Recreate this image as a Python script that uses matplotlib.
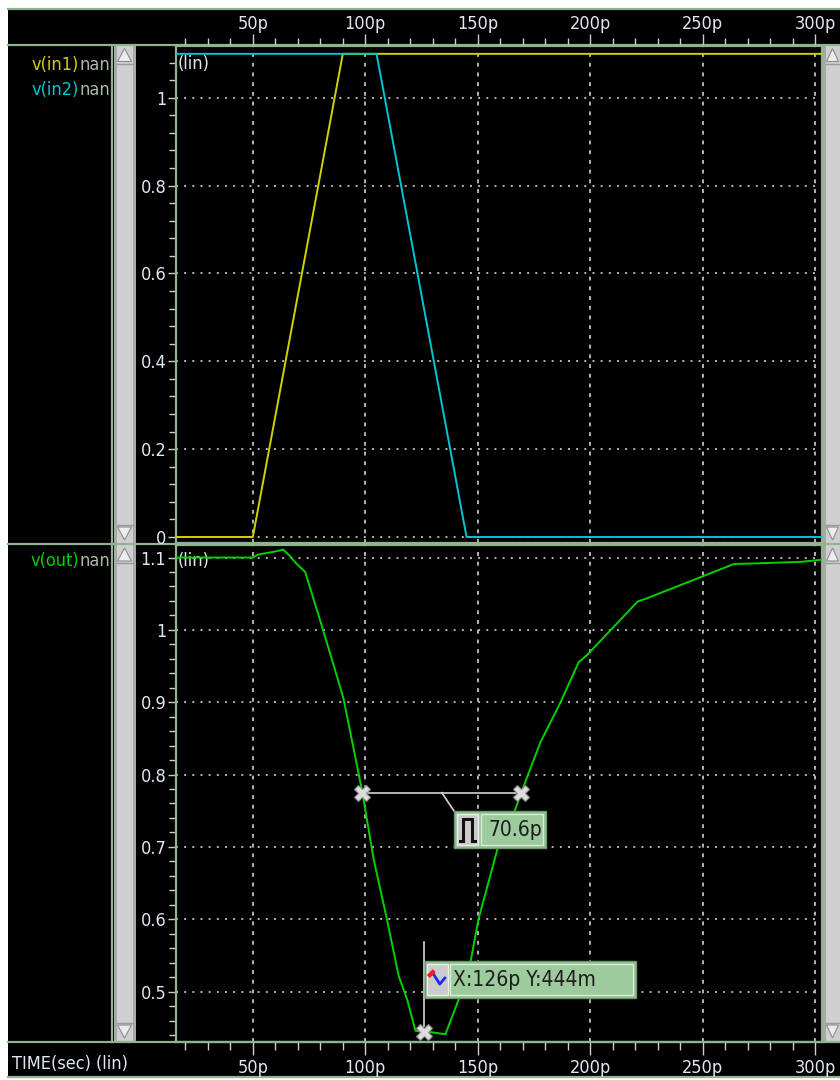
import matplotlib
matplotlib.use('Agg')
import matplotlib.pyplot as plt
from matplotlib.patches import Rectangle, Polygon
from matplotlib.ticker import MultipleLocator, FuncFormatter

# ---------------- data ----------------
t_in1 = [0, 50, 90, 310]
v_in1 = [0.0, 0.0, 1.1, 1.1]
t_in2 = [0, 105, 145, 310]
v_in2 = [1.1, 1.1, 0.0, 0.0]

t_out = [0, 50, 52.3, 61, 63.5, 66.5, 69.5, 73.3, 80.7, 86.5, 90.3, 95.5, 98.7,
         103.7, 109.6, 114.8, 118.6, 122.3, 126, 128.9, 135.6, 141.5, 146.7,
         150.3, 159, 166.7, 169.3, 177.9, 186.8, 194.8, 198.8, 221, 225.5, 263.8,
         274.5, 293.6, 303, 310]
v_out = [1.1, 1.1, 1.104, 1.109, 1.111, 1.102, 1.091, 1.08, 1.005, 0.945, 0.905,
         0.825, 0.775, 0.683, 0.6, 0.522, 0.489, 0.446, 0.444, 0.444, 0.441,
         0.489, 0.54, 0.6, 0.7, 0.752, 0.775, 0.845, 0.9, 0.955, 0.966, 1.039,
         1.044, 1.091, 1.092, 1.094, 1.097, 1.097]

meas_t = [98.7, 169.3]
meas_v = 0.775
pt_t, pt_v = 126, 0.444

top_yticks = [0, 0.2, 0.4, 0.6, 0.8, 1.0]
bot_yticks = [0.5, 0.6, 0.7, 0.8, 0.9, 1.0, 1.1]
xticks = [50, 100, 150, 200, 250, 300]

# ---------------- style ----------------
W, H = 840, 1080
plt.rcParams['font.family'] = ['DejaVu Sans']
plt.rcParams['font.stretch'] = 'condensed'
BORDER = '#8fb48f'
TXT = '#e2e8f2'
GRID = '#b4b4b4'
YEL = '#d2d200'
CYA = '#00c8d2'
GRN = '#00d200'
FS = 13

fig = plt.figure(figsize=(W / 100, H / 100), dpi=100)
fig.patch.set_facecolor('white')


def rect(x0, y0, x1, y1):
    return [x0 / W, 1 - y1 / H, (x1 - x0) / W, (y1 - y0) / H]


def pixel_axes():
    a = fig.add_axes([0, 0, 1, 1])
    a.set_xlim(0, W)
    a.set_ylim(H, 0)
    a.axis('off')
    a.patch.set_alpha(0)
    return a


bg = pixel_axes()
bg.add_patch(Rectangle((8, 9), 832, 1068, facecolor='black', edgecolor='none'))

# border lines
for y in (9, 44.5, 544, 1042, 1077):
    bg.plot([8, 840], [y, y], color=BORDER, lw=1.6, zorder=5)
bg.plot([112, 112], [44.5, 1042], color=BORDER, lw=1.6, zorder=5)


def scrollbar(x0, x1, y0, y1):
    bg.add_patch(Rectangle((x0, y0), x1 - x0, y1 - y0, facecolor='#a9a9a9',
                           edgecolor='none', zorder=3))
    bg.add_patch(Rectangle((x0 + 2.5, y0), x1 - x0 - 6, y1 - y0, facecolor='#cfcfcf',
                           edgecolor='none', zorder=3))
    xm = (x0 + x1) / 2 - 0.5
    hw = (x1 - x0) / 2 - 4
    bg.add_patch(Polygon([(xm - hw, y0 + 16), (xm + hw, y0 + 16), (xm, y0 + 3)],
                         closed=True, facecolor='#ececec', edgecolor='#8c8c8c',
                         lw=0.8, zorder=4))
    bg.plot([x0 + 2.5, x1 - 3.5], [y0 + 18, y0 + 18], color='#9a9a9a', lw=1, zorder=4)
    bg.add_patch(Polygon([(xm - hw, y1 - 16), (xm + hw, y1 - 16), (xm, y1 - 3)],
                         closed=True, facecolor='#ececec', edgecolor='#8c8c8c',
                         lw=0.8, zorder=4))
    bg.plot([x0 + 2.5, x1 - 3.5], [y1 - 18, y1 - 18], color='#9a9a9a', lw=1, zorder=4)


scrollbar(114, 136, 45.5, 543)
scrollbar(114, 136, 545, 1041)
scrollbar(823, 843, 45.5, 543)
scrollbar(823, 843, 545, 1041)

# legend labels
NAN = '#a9b9a9'
for label, col, y in (('v(in1)', YEL, 65), ('v(in2)', CYA, 90), ('v(out)', GRN, 561)):
    bg.text(79, y, label, color=col, fontsize=FS, va='center', ha='right')
    bg.text(110, y, 'nan', color=NAN, fontsize=FS, va='center', ha='right')
bg.text(12, 1064, 'TIME(sec) (lin)', color=TXT, fontsize=FS, va='center', ha='left')

# ---------------- data axes ----------------
x_lim = (15.85, 303.0)
ax1 = fig.add_axes(rect(176, 45.5, 822, 543))
ax2 = fig.add_axes(rect(176, 545, 822, 1042))
ax1.set_ylim(-0.0137, 1.119)
ax2.set_ylim(0.4303, 1.1173)

pfmt = FuncFormatter(lambda v, p: f'{v:g}p')
for ax in (ax1, ax2):
    ax.set_facecolor('none')
    ax.set_xlim(*x_lim)
    for s in ax.spines.values():
        s.set_color(BORDER)
        s.set_linewidth(1.6)
    ax.xaxis.set_major_locator(MultipleLocator(50))
    ax.xaxis.set_minor_locator(MultipleLocator(10))
    ax.tick_params(axis='both', which='both', colors='#c8d2c8', labelcolor=TXT,
                   labelsize=FS, direction='out')
    ax.tick_params(axis='y', which='major', length=6, width=1, pad=1)
    ax.tick_params(axis='y', which='minor', length=5, width=1)
    ax.tick_params(axis='x', which='major', length=9, width=1, pad=0)
    ax.tick_params(axis='x', which='minor', length=6, width=1)
    ax.grid(True, which='major', axis='y', color=GRID, lw=1.4, ls=(0, (1.0, 3.2)))
    ax.grid(True, which='major', axis='x', color=GRID, lw=1.4, ls=(0, (2.0, 3.0)))
    ax.set_axisbelow(True)

ax1.set_yticks(top_yticks)
ax1.yaxis.set_minor_locator(MultipleLocator(0.04))
ax1.yaxis.set_major_formatter(FuncFormatter(lambda v, p: f'{v:g}'))
ax1.xaxis.tick_top()
ax1.set_xticks(xticks)
ax1.xaxis.set_major_formatter(pfmt)

ax2.set_yticks(bot_yticks)
ax2.yaxis.set_minor_locator(MultipleLocator(0.02))
ax2.yaxis.set_major_formatter(FuncFormatter(lambda v, p: f'{v:g}'))
ax2.set_xticks(xticks)
ax2.xaxis.set_major_formatter(pfmt)
ax2.tick_params(axis='x', which='major', pad=3)

ax1.plot(t_in1, v_in1, color=YEL, lw=1.4, zorder=3)
ax1.plot(t_in2, v_in2, color=CYA, lw=1.4, zorder=4)
ax2.plot(t_out, v_out, color=GRN, lw=1.4, zorder=3)

ax1.text(0.003, 0.962, '(lin)', transform=ax1.transAxes, color=TXT, fontsize=FS,
         va='center', ha='left')
ax2.text(0.003, 0.968, '(lin)', transform=ax2.transAxes, color=TXT, fontsize=FS,
         va='center', ha='left', zorder=2)

# ---------------- markers & annotations ----------------
ax2.plot(meas_t, [meas_v, meas_v], color='#d4d4d4', lw=1.2, zorder=5)
ax2.plot(meas_t, [meas_v, meas_v], ls='none', marker='X', ms=12, mfc='#dcdcdc',
         mec='#8a8a8a', mew=0.8, zorder=6)
ax2.plot([pt_t], [pt_v], ls='none', marker='X', ms=12, mfc='#dcdcdc',
         mec='#8a8a8a', mew=0.8, zorder=6, clip_on=False)


def to_px(ax, t, v):
    xd, yd = ax.transData.transform((t, v))
    return xd, H - yd


mx, my = to_px(ax2, (meas_t[0] + meas_t[1]) / 2, meas_v)
px, py = to_px(ax2, pt_t, pt_v)

ov = pixel_axes()   # overlay drawn above the data axes

BOXG = '#94c294'
BOXE = '#6c9c6c'

# measurement box
bx, by = mx + 12, my + 18
ov.plot([mx, bx], [my, by], color='#d4d4d4', lw=1.2, zorder=6)
ov.add_patch(Rectangle((bx, by), 92, 37, facecolor=BOXG, edgecolor=BOXE, lw=1, zorder=7))
ov.add_patch(Rectangle((bx + 3, by + 3), 21, 31, facecolor='#cbcbcb', edgecolor='#eeeeee',
                       lw=1, zorder=8))
ov.add_patch(Rectangle((bx + 27, by + 3), 62, 31, facecolor='#9dcb9d', edgecolor='#d8ecd8',
                       lw=1, zorder=8))
ov.plot([bx + 6, bx + 9, bx + 9, bx + 18, bx + 18, bx + 21],
        [by + 30, by + 30, by + 8, by + 8, by + 30, by + 30], color='#111111', lw=2.2,
        zorder=9, solid_joinstyle='miter')
ov.text(bx + 88, by + 19, f'{meas_t[1] - meas_t[0]:.1f}p', color='#1c1c1c', fontsize=FS + 2,
        ha='right', va='center', zorder=9)

# point box
ov.plot([px, px], [py - 6, py - 90], color='#d4d4d4', lw=1.2, zorder=5)
qx, qy = px + 1, py - 71
ov.add_patch(Rectangle((qx, qy), 211, 37, facecolor=BOXG, edgecolor=BOXE, lw=1, zorder=7))
ov.add_patch(Rectangle((qx + 2, qy + 3), 21, 31, facecolor='#cbcbcb', edgecolor='#eeeeee',
                       lw=1, zorder=8))
ov.add_patch(Rectangle((qx + 25, qy + 3), 183, 31, facecolor='#9dcb9d', edgecolor='#d8ecd8',
                       lw=1, zorder=8))
ov.plot([qx + 5, qx + 8, qx + 15, qx + 20], [qy + 14, qy + 12, qy + 23, qy + 17],
        color='#1a2cff', lw=2, zorder=9)
ov.plot([qx + 5, qx + 8], [qy + 14, qy + 11], color='#ff1a1a', lw=3, zorder=10)
ov.text(qx + 28, qy + 19, f'X:{pt_t:g}p Y:{pt_v * 1000:g}m', color='#1c1c1c',
        fontsize=FS + 2, ha='left', va='center', zorder=9)

fig.savefig('out.png', dpi=100, facecolor=fig.get_facecolor())
